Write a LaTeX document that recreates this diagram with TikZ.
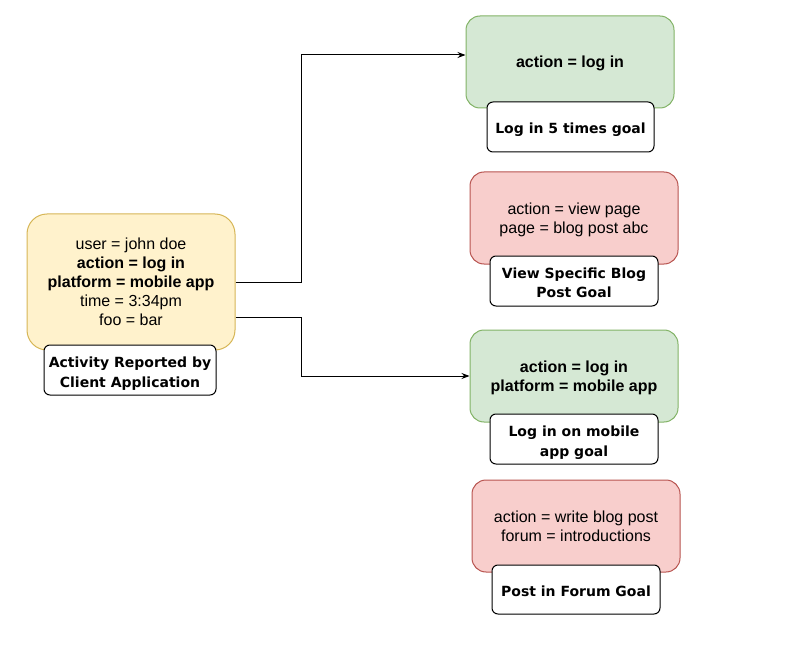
\documentclass[tikz,border=0pt]{standalone}
\usepackage{fontspec}
\setmainfont{Liberation Sans}
\newfontfamily\lblfont{DejaVu Sans}
\usetikzlibrary{arrows.meta}
\definecolor{yfill}{HTML}{FFF2CC}
\definecolor{ystroke}{HTML}{D6B656}
\definecolor{gfill}{HTML}{D5E8D4}
\definecolor{gstroke}{HTML}{82B366}
\definecolor{rfill}{HTML}{F8CECC}
\definecolor{rstroke}{HTML}{B85450}
\newcommand\gltext[1]{\raisebox{-3pt}[\height][\depth]{\begin{tabular}{@{}c@{}}#1\end{tabular}}}
\newcommand\cdtext[1]{\raisebox{-2pt}[\height][\depth]{\begin{tabular}{@{}c@{}}#1\end{tabular}}}
\tikzset{
  cond/.style={rounded corners=14pt, minimum width=208pt, minimum height=92pt, align=center, inner sep=0pt,
    line width=1pt, font=\fontsize{16}{19}\selectfont},
  yellowbox/.style={cond, fill=yfill, draw=ystroke, minimum height=136pt, rounded corners=20pt},
  greenbox/.style={cond, fill=gfill, draw=gstroke},
  redbox/.style={cond, fill=rfill, draw=rstroke},
  goal/.style={draw=black, fill=white, rounded corners=6pt, minimum width=168pt, minimum height=50pt,
    line width=1pt, align=center, inner sep=0pt, font=\lblfont\bfseries\fontsize{14}{20}\selectfont},
  conn/.style={draw=black, line width=1pt, -{Stealth[length=8pt,width=6pt]}},
}
\begin{document}
\begin{tikzpicture}[x=1pt,y=-1pt]
\useasboundingbox (0,0) rectangle (796,658);
\node[yellowbox] (Y) at (131,282) {\cdtext{user = john doe\\\textbf{action = log in}\\\textbf{platform = mobile app}\\time = 3:34pm\\foo = bar}};
\node[goal, minimum width=172pt] (LY) at (130,370) {\gltext{Activity Reported by\\Client Application}};

\node[greenbox] (G1) at (570,62) {\cdtext{\textbf{action = log in}}};
\node[goal, minimum width=167pt] (L1) at (570.5,127) {\gltext{Log in 5 times goal}};

\node[redbox] (R1) at (574,218) {\cdtext{action = view page\\page = blog post abc}};
\node[goal] (L2) at (574,281) {\gltext{View Specific Blog\\Post Goal}};

\node[greenbox] (G2) at (574,376) {\cdtext{\textbf{action = log in}\\\textbf{platform = mobile app}}};
\node[goal] (L3) at (574,439) {\gltext{Log in on mobile\\app goal}};

\node[redbox] (R2) at (576,526) {\cdtext{action = write blog post\\forum = introductions}};
\node[goal, minimum height=49pt] (L4) at (576,589.5) {\gltext{Post in Forum Goal}};

\draw[conn] (Y.east) -- ++(66,0) |- ([yshift=7pt]G1.west);
\draw[conn] ([yshift=-35pt]Y.east) -- ++(66,0) |- (G2.west);
\end{tikzpicture}
\end{document}
